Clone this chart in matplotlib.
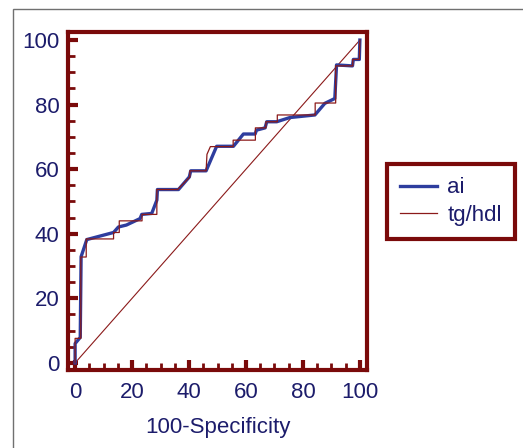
import matplotlib.pyplot as plt
from matplotlib.patches import Rectangle
from matplotlib.ticker import MultipleLocator

plt.rcParams['font.family'] = ['Liberation Sans', 'DejaVu Sans']

# ROC points (100-Specificity, Sensitivity)
ai_x = [0, 0, 1.8, 2.1, 4.1, 13.5, 15.2, 18, 22.8, 23.4, 26.9, 28.7, 28.9, 36.3,
        40.1, 40.6, 46, 49.7, 55.6, 59.1, 63.2, 63.7, 66.7, 67.3, 70.8, 75.4,
        84.2, 87.7, 91.2, 91.8, 97.4, 97.7, 99.8, 100]
ai_y = [0, 6, 7.9, 32.9, 38.2, 40.4, 42.1, 42.7, 44.7, 46, 46.3, 50.4, 53.7, 53.7,
        57.6, 59.5, 59.5, 67.1, 67.1, 70.9, 70.9, 72.1, 72.8, 74.7, 74.7, 76,
        76.8, 80.4, 81.9, 92.3, 92, 94, 94, 100]

tg_x = [0, 0, 2, 2, 3.9, 3.9, 13.5, 13.5, 15.5, 15.5, 23.5, 23.5, 28.7, 28.7,
        36, 40.3, 40.3, 46, 46.3, 47.5, 55.5, 55.5, 63.3, 63.3, 67, 67, 71, 71,
        84.3, 84.3, 91.5, 91.5, 97.5, 97.5, 99.8, 100]
tg_y = [0, 7.6, 7.6, 32.8, 32.8, 38.4, 38.4, 40.4, 40.4, 44, 44, 46, 46, 53.7,
        53.7, 57.6, 59.5, 59.5, 64.6, 67, 67, 69, 69, 72.8, 72.8, 74.7, 74.7,
        76.8, 76.8, 80.5, 80.5, 92, 92, 94, 94, 100]

diag = [0, 100]

red = '#7a0a0a'
navy = '#1c1c6b'
blue = '#2e3d9e'

fig = plt.figure(figsize=(5.23, 4.48), dpi=100)
ax = fig.add_axes([68/523, 1-370/448, (367-68)/523, (370-32)/448])

ax.plot(diag, diag, color='#8b1a1a', lw=0.8)
ax.plot(ai_x, ai_y, color=blue, lw=2.4, label='ai')
ax.plot(tg_x, tg_y, color='#8b1a1a', lw=0.9, label='tg/hdl')

ax.set_xlim(-2.5, 102.5)
ax.set_ylim(-2.2, 102.5)
ax.xaxis.set_major_locator(MultipleLocator(20))
ax.xaxis.set_minor_locator(MultipleLocator(5))
ax.yaxis.set_major_locator(MultipleLocator(20))
ax.yaxis.set_minor_locator(MultipleLocator(5))
ax.tick_params(which='major', direction='in', length=7, width=3, color=red,
               labelcolor=navy, labelsize=16, pad=6)
ax.tick_params(which='minor', direction='in', length=5, width=2, color=red)
ax.tick_params(axis='x', which='major', pad=9)
for s in ax.spines.values():
    s.set_color(red)
    s.set_linewidth(3)

ax.set_xlabel('100-Specificity', color=navy, fontsize=16, labelpad=10)

leg = ax.legend(loc='upper left', bbox_to_anchor=(387/523, 1-164/448),
                bbox_transform=fig.transFigure, borderaxespad=0, fontsize=16,
                fancybox=False, handlelength=1.67, handletextpad=0.45,
                labelspacing=0.3, borderpad=0.6, labelcolor=navy)
leg.get_frame().set_edgecolor(red)
leg.get_frame().set_linewidth(3)
leg.get_frame().set_alpha(1)

fig.patches.append(Rectangle((13/523, -0.1), 2, 1.1 - 9/448, transform=fig.transFigure,
                             fill=False, edgecolor='#707070', lw=1))

fig.savefig('out.png', dpi=100)
